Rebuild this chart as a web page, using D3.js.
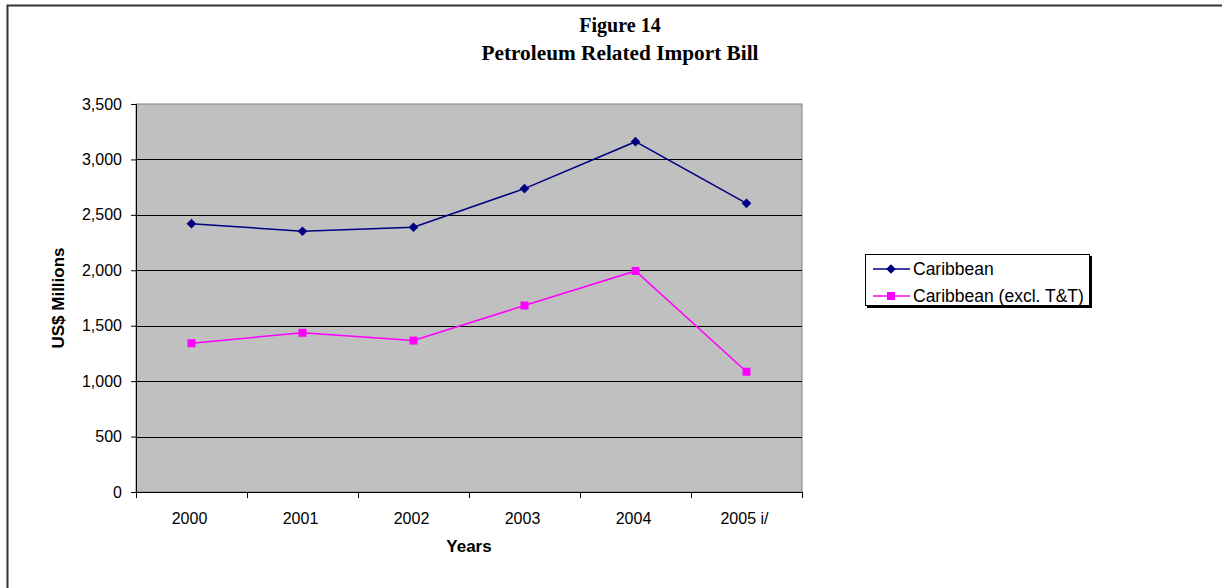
<!DOCTYPE html>
<html>
<head>
<meta charset="utf-8">
<script src="https://cdn.jsdelivr.net/npm/d3@7"></script>
<style>
  html, body { margin: 0; padding: 0; background: #fff; }
  svg { display: block; }
</style>
</head>
<body>
<svg id="chart" width="1222" height="588"></svg>
<script>
// Petroleum related import bill, US$ millions
const years = ["2000", "2001", "2002", "2003", "2004", "2005 i/"];
const caribbean = [2420, 2352, 2388, 2737, 3160, 2604];
const caribbeanExclTT = [1342, 1436, 1366, 1682, 1994, 1085];
const yTicks = [0, 500, 1000, 1500, 2000, 2500, 3000, 3500];
const seriesNames = ["Caribbean", "Caribbean (excl. T&T)"];

const svg = d3.select("#chart");
const sans = "Arial, 'Liberation Sans', sans-serif";
const serif = "'Times New Roman', 'Liberation Serif', serif";

// outer frame
svg.append("rect")
  .attr("x", 7.5).attr("y", 5.5)
  .attr("width", 1400).attr("height", 800)
  .attr("fill", "none").attr("stroke", "#333").attr("stroke-width", 2);

// titles
const cx = 620;
svg.append("text").attr("x", cx).attr("y", 32)
  .attr("text-anchor", "middle").attr("font-family", serif)
  .attr("font-weight", "bold").attr("font-size", 20).text("Figure 14");
svg.append("text").attr("x", cx).attr("y", 60)
  .attr("text-anchor", "middle").attr("font-family", serif)
  .attr("font-weight", "bold").attr("font-size", 20).attr("textLength", 277)
  .attr("lengthAdjust", "spacingAndGlyphs").text("Petroleum Related Import Bill");

const plot = { left: 136, right: 802, top: 104, bottom: 492 };
const x = d3.scaleBand().domain(years).range([plot.left, plot.right]);
const y = d3.scaleLinear().domain([0, 3500]).range([plot.bottom, plot.top]);

// plot background
svg.append("rect")
  .attr("x", plot.left).attr("y", plot.top)
  .attr("width", plot.right - plot.left).attr("height", plot.bottom - plot.top)
  .attr("fill", "#c0c0c0").attr("stroke", "#808080").attr("stroke-width", 1);

// gridlines
svg.append("g").selectAll("line")
  .data(yTicks.filter(v => v > 0 && v < 3500))
  .join("line")
  .attr("x1", plot.left).attr("x2", plot.right)
  .attr("y1", d => Math.round(y(d)) + 0.5).attr("y2", d => Math.round(y(d)) + 0.5)
  .attr("stroke", "#000").attr("stroke-width", 1);

// y axis
const yAxis = svg.append("g")
  .attr("transform", `translate(${plot.left},0)`)
  .call(d3.axisLeft(y).tickValues(yTicks).tickFormat(d3.format(",")).tickSize(5).tickPadding(9));
yAxis.select(".domain").attr("stroke", "#000");
yAxis.selectAll("text").attr("font-family", sans).attr("font-size", 16).attr("fill", "#000");

// x axis: ticks at category boundaries
const xAxis = svg.append("g").attr("transform", `translate(0,${plot.bottom})`);
xAxis.append("line").attr("x1", plot.left).attr("x2", plot.right)
  .attr("y1", 0.5).attr("y2", 0.5).attr("stroke", "#000");
const bounds = years.map(d => x(d)).concat([x(years[years.length - 1]) + x.bandwidth()]);
xAxis.selectAll("line.tick").data(bounds).join("line").attr("class", "tick")
  .attr("x1", d => Math.round(d) + 0.5).attr("x2", d => Math.round(d) + 0.5)
  .attr("y1", 0).attr("y2", 6).attr("stroke", "#000");
xAxis.selectAll("text").data(years).join("text")
  .attr("x", d => x(d) + x.bandwidth() / 2 - 2).attr("y", 32)
  .attr("text-anchor", "middle").attr("font-family", sans).attr("font-size", 16)
  .text(d => d);

// axis titles
svg.append("text").attr("x", (plot.left + plot.right) / 2).attr("y", 552)
  .attr("text-anchor", "middle").attr("font-family", sans).attr("font-weight", "bold")
  .attr("font-size", 17).text("Years");
svg.append("text")
  .attr("transform", `translate(64,${(plot.top + plot.bottom) / 2}) rotate(-90)`)
  .attr("text-anchor", "middle").attr("font-family", sans).attr("font-weight", "bold")
  .attr("font-size", 17).text("US$ Millions");

// series
const cxp = d => x(d) + x.bandwidth() / 2;
const line = d3.line().x(d => cxp(d.year)).y(d => y(d.value));
const s1 = years.map((yr, i) => ({ year: yr, value: caribbean[i] }));
const s2 = years.map((yr, i) => ({ year: yr, value: caribbeanExclTT[i] }));

svg.append("path").datum(s1).attr("d", line)
  .attr("fill", "none").attr("stroke", "#000080").attr("stroke-width", 1.5);
svg.append("path").datum(s2).attr("d", line)
  .attr("fill", "none").attr("stroke", "#ff00ff").attr("stroke-width", 1.5);

const diamond = d3.symbol().type(d3.symbolDiamond2).size(60);
svg.append("g").selectAll("path").data(s1).join("path")
  .attr("transform", d => `translate(${cxp(d.year)},${y(d.value)})`)
  .attr("d", diamond).attr("fill", "#000080");
svg.append("g").selectAll("rect").data(s2).join("rect")
  .attr("x", d => cxp(d.year) - 4).attr("y", d => y(d.value) - 4)
  .attr("width", 8).attr("height", 8).attr("fill", "#ff00ff");

// legend
const lg = svg.append("g");
lg.append("rect").attr("x", 867).attr("y", 256).attr("width", 225).attr("height", 52)
  .attr("fill", "#000");
lg.append("rect").attr("x", 865.5).attr("y", 254.5).attr("width", 224).attr("height", 51)
  .attr("fill", "#fff").attr("stroke", "#000").attr("stroke-width", 1);
const rows = [
  { name: seriesNames[0], color: "#000080", ry: 269, shape: "diamond" },
  { name: seriesNames[1], color: "#ff00ff", ry: 296, shape: "square" }
];
rows.forEach(r => {
  lg.append("line").attr("x1", 873).attr("x2", 910).attr("y1", r.ry).attr("y2", r.ry)
    .attr("stroke", r.color).attr("stroke-width", 1.5);
  if (r.shape === "diamond") {
    lg.append("path").attr("transform", `translate(891,${r.ry})`).attr("d", diamond).attr("fill", r.color);
  } else {
    lg.append("rect").attr("x", 887).attr("y", r.ry - 4).attr("width", 8).attr("height", 8).attr("fill", r.color);
  }
  lg.append("text").attr("x", 913).attr("y", r.ry + 6)
    .attr("font-family", sans).attr("font-size", 17.5).text(r.name);
});
</script>
</body>
</html>
